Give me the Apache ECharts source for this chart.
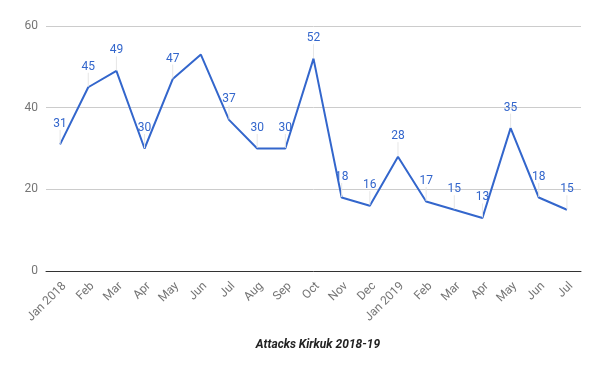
<!DOCTYPE html>
<html><head><meta charset="utf-8">
<script src="https://cdn.jsdelivr.net/npm/echarts@6/dist/echarts.min.js"></script>
<style>html,body{margin:0;padding:0;background:#fff}#c{width:600px;height:371px}</style>
</head><body><div id="c"></div>
<script>
const categories = ['Jan 2018','Feb','Mar','Apr','May','Jun','Jul','Aug','Sep','Oct','Nov','Dec','Jan 2019','Feb','Mar','Apr','May','Jun','Jul'];
const attacks = [31,45,49,30,47,53,37,30,30,52,18,16,28,17,15,13,35,18,15];
const hiddenLabels = [5];
const yTicks = [0,20,40,60];
const titleText = 'Attacks Kirkuk 2018-19';

const chart = echarts.init(document.getElementById('c'));
chart.setOption({
  animation: false,
  textStyle: {fontFamily: 'Roboto'},
  title: {text: titleText, left: 313, textAlign: 'center', top: 334,
    textStyle: {fontFamily: 'Roboto', fontSize: 12, fontWeight: 'bold', fontStyle: 'italic', color: '#222'}},
  grid: {left: 46, right: 19, top: 26, bottom: 100},
  xAxis: {type: 'category', data: categories, boundaryGap: true,
    axisLine: {show: true, lineStyle: {color: '#333', width: 1}},
    axisTick: {show: false},
    axisLabel: {rotate: 45, color: '#757575', fontSize: 12, interval: 0, margin: 9, verticalAlign: 'top'}},
  yAxis: {type: 'value', min: yTicks[0], max: yTicks[yTicks.length-1], interval: 20,
    axisLine: {show: false}, axisTick: {show: false},
    axisLabel: {color: '#757575', fontSize: 12, margin: 8},
    splitLine: {lineStyle: {color: '#cccccc'}}},
  series: [{
    type: 'line', data: attacks.map((v,i)=> hiddenLabels.includes(i) ? {value: v, label: {show: false}, labelLine:{show:false}} : v),
    symbol: 'circle', symbolSize: 1, showSymbol: true, showAllSymbol: true,
    lineStyle: {color: '#3366cc', width: 2}, itemStyle: {color: 'rgba(0,0,0,0)'},
    label: {show: true, position: 'top', distance: 5, color: '#3366cc', fontSize: 12},
    labelLayout: {dy: -9},
    labelLine: {show: true, lineStyle: {color: '#e6e6e6', width: 1}}
  }]
});
</script></body></html>
